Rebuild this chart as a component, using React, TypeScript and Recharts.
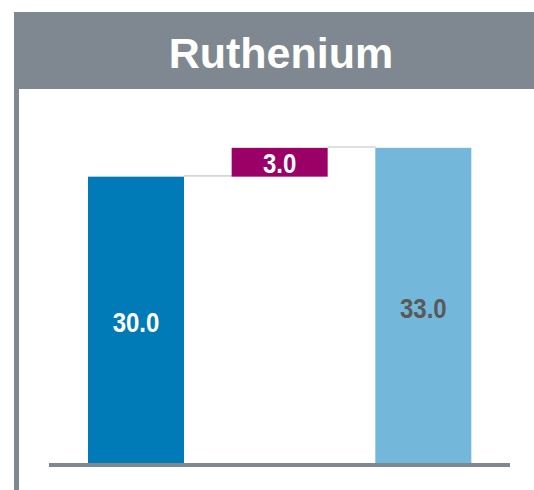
import { Bar, BarChart, ReferenceLine, XAxis, YAxis } from "recharts";

const categories = ["Start", "Change", "End"];
const baseValues = [0, 30, 0];
const barValues = [30, 3, 33];
const barColors = ["#007bb8", "#9b0067", "#73b7da"];
const labelColors = ["#ffffff", "#ffffff", "#595959"];

const GAP = 24;
const FRAME = "#7f8891";

const chartData = categories.map((name, i) => ({
  name,
  base: baseValues[i],
  value: barValues[i],
}));

// bar + label + connector to the next bar
function WaterfallBar(props: any) {
  const { x, y, width, height, index } = props;
  const last = index >= chartData.length - 1;
  return (
    <g>
      <rect x={x} y={y} width={width} height={height} fill={barColors[index]} />
      {!last && (
        <line
          x1={x + width}
          x2={x + width + GAP * 2}
          y1={y - 0.8}
          y2={y - 0.8}
          stroke="#d6d6d6"
          strokeWidth={1.6}
        />
      )}
      <text
        x={x + width / 2}
        y={y + height / 2 + 1.5}
        textAnchor="middle"
        dominantBaseline="central"
        fill={labelColors[index]}
        fontSize={24}
        fontWeight="bold"
        fontFamily="'Liberation Sans', Arial, sans-serif"
        transform={`translate(0 ${y + height / 2}) scale(1 1.12) translate(0 ${-(y + height / 2)})`}
      >
        {barValues[index].toFixed(1)}
      </text>
    </g>
  );
}

export default function App() {
  return (
    <div
      style={{
        position: "absolute",
        left: 0,
        top: 0,
        width: 534,
        height: 490,
        background: "#fff",
        overflow: "hidden",
      }}
    >
      <div
        style={{
          position: "absolute",
          left: 14,
          top: 12,
          width: 520,
          height: 77,
          background: FRAME,
          borderTopLeftRadius: 3,
        }}
      />
      <div
        style={{
          position: "absolute",
          left: 14,
          top: 12,
          width: 5,
          height: 478,
          background: FRAME,
        }}
      />
      <div
        style={{
          position: "absolute",
          left: 0,
          top: 13,
          width: 562,
          height: 77,
          lineHeight: "80px",
          textAlign: "center",
          color: "#fff",
          fontSize: 43,
          fontWeight: "bold",
          fontFamily: "'Liberation Sans', Arial, sans-serif",
        }}
      >
        Ruthenium
      </div>
      <div style={{ position: "absolute", left: 0, top: 0 }}>
        <BarChart
          width={534}
          height={490}
          data={chartData}
          margin={{ top: 119, right: 24, bottom: 25, left: 49 }}
          barCategoryGap={GAP}
        >
          <XAxis dataKey="name" hide padding={{ left: 15, right: 15 }} />
          <YAxis hide domain={[0, 36]} />
          <Bar dataKey="base" stackId="a" fill="transparent" isAnimationActive={false} />
          <Bar
            dataKey="value"
            stackId="a"
            shape={WaterfallBar}
            isAnimationActive={false}
          />
          <ReferenceLine y={0} stroke={FRAME} strokeWidth={4} />
        </BarChart>
      </div>
    </div>
  );
}
